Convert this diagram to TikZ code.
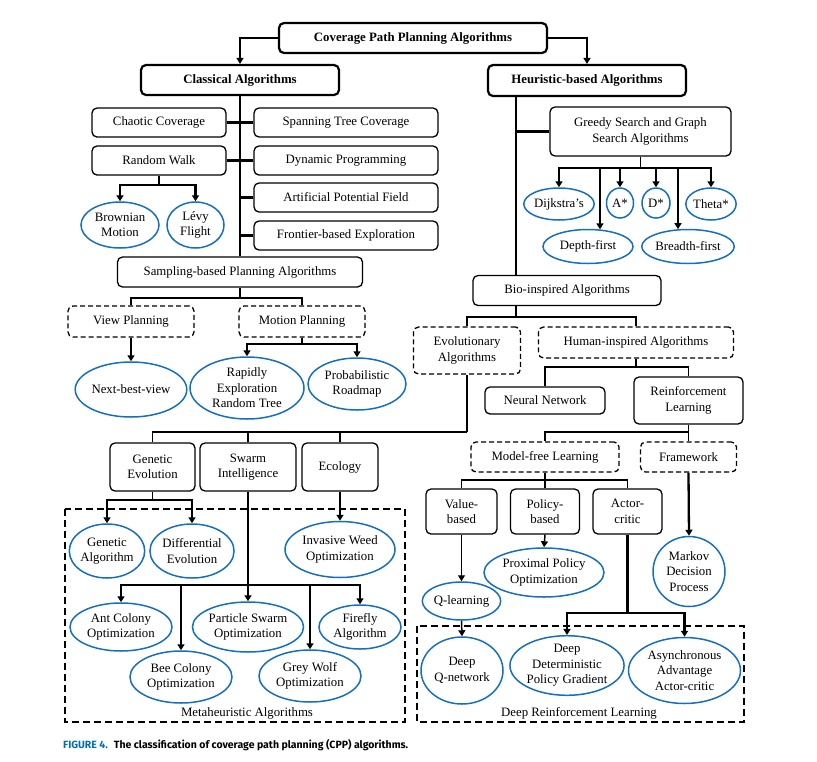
\documentclass[tikz,border=0pt]{standalone}
\usepackage{fontspec}
\setmainfont{Liberation Serif}
\newfontfamily\capfont{Fira Sans}
\usetikzlibrary{shapes.geometric,arrows.meta,calc}
\definecolor{ellblue}{RGB}{20,112,190}
\definecolor{capblue}{RGB}{0,110,180}

\begin{document}
\begin{tikzpicture}[x=1pt,y=-1pt,
  every node/.style={font=\fontsize{12.8}{15.5}\selectfont, align=center, inner sep=0pt},
  box/.style 2 args={draw, rounded corners=5pt, line width=1.3pt, minimum width=#1, minimum height=#2},
  bbox/.style 2 args={draw, rounded corners=5pt, line width=2.2pt, minimum width=#1, minimum height=#2},
  dbox/.style 2 args={draw, rounded corners=5pt, line width=1.3pt, dash pattern=on 5pt off 3pt, minimum width=#1, minimum height=#2},
  ell/.style 2 args={ellipse, draw=ellblue, line width=1.5pt, minimum width=#1, minimum height=#2},
  ln/.style={line width=1.5pt},
  tk/.style={line width=2.3pt},
  tn/.style={line width=1.2pt},
  arr/.style={-{Triangle[width=7pt,length=6pt]}},
  group/.style={draw, line width=1.3pt, dash pattern=on 7pt off 4pt}
]
\useasboundingbox (0,0) rectangle (817,761);

% ---------- top levels ----------
\node[bbox={268pt}{30pt}] (cpp) at (413,38) {\bfseries Coverage Path Planning Algorithms};
\node[bbox={198pt}{30pt}] (cls) at (240,80) {\bfseries Classical Algorithms};
\node[bbox={198pt}{31pt}] (heu) at (587,80.5) {\bfseries Heuristic-based Algorithms};
\draw[ln,arr] (cpp.west) -| (cls.north);
\draw[ln,arr] (cpp.east) -| (heu.north);

% ---------- classical branch ----------
\node[box={134pt}{29pt}] (cc)  at (159,122.5) {Chaotic Coverage};
\node[box={134pt}{29pt}] (rw)  at (159,160.5) {Random Walk};
\node[box={184pt}{29pt}] (stc) at (346,122.5) {Spanning Tree Coverage};
\node[box={184pt}{29pt}] (dp)  at (346,160.5) {Dynamic Programming};
\node[box={184pt}{29pt}] (apf) at (346,197.5) {Artificial Potential Field};
\node[box={184pt}{29pt}] (fbe) at (346,235.5) {Frontier-based Exploration};
\node[box={245pt}{30pt}] (samp) at (240,272) {Sampling-based Planning Algorithms};

\draw[tk] (cls.south) -- (samp.north);
\draw[tk] (cc.east) -- (stc.west);
\draw[tk] (rw.east) -- (dp.west);
\draw[tk] (apf.west) -- (apf.west -| cls.south);
\draw[tk] (fbe.west) -- (fbe.west -| cls.south);

\node[ell={78pt}{46pt}] (bm) at (120,225) {Brownian\\Motion};
\node[ell={57pt}{46pt}] (lf) at (195.5,225) {Lévy\\Flight};
\coordinate (rwj) at (159,185);
\draw[ln] (rw.south) -- (rwj);
\draw[tk,arr] (rwj) -| (bm.north);
\draw[tk,arr] (rwj) -| (lf.north);

\node[dbox={126pt}{31pt}] (vp) at (131,321.5) {View Planning};
\node[dbox={126pt}{31pt}] (mp) at (302,321.5) {Motion Planning};
\coordinate (sj) at (240,298);
\draw[ln] (samp.south) -- (sj);
\draw[ln] (sj) -| (vp.north);
\draw[ln] (sj) -| (mp.north);

\node[ell={106pt}{55pt}] (nbv) at (131,389.5) {Next-best-view};
\node[ell={114pt}{62pt}] (rrt) at (247,388) {Rapidly\\Exploration\\Random Tree};
\node[ell={98pt}{52pt}]  (prm) at (357,384) {Probabilistic\\Roadmap};
\draw[tk,arr] (vp.south) -- (nbv.north);
\coordinate (mj) at (302,344);
\draw[ln] (mp.south) -- (mj);
\draw[tk,arr] (mj) -| (rrt.north);
\draw[tk,arr] (mj) -| (prm.north);

% ---------- heuristic branch ----------
\coordinate (hx) at (516,0);
\node[box={181pt}{49pt}] (gs) at (640.5,131.5) {Greedy Search and Graph\\Search Algorithms};
\node[box={188pt}{30pt}] (bio) at (567,290.5) {Bio-inspired Algorithms};
\draw[tk] (heu.south -| hx) -- (bio.north -| hx);
\draw[tk] (gs.west) -- (gs.west -| hx);

\node[ell={68pt}{32pt}] (dij) at (559,204) {Dijkstra’s};
\node[ell={27pt}{30pt}] (astar) at (620,203) {A*};
\node[ell={28pt}{30pt}] (dstar) at (656,203) {D*};
\node[ell={48pt}{32pt}] (theta) at (711,204) {Theta*};
\node[ell={90pt}{34pt}] (dfs) at (588,246.5) {Depth-first};
\node[ell={90pt}{34pt}] (bfs) at (688,246.5) {Breadth-first};
\coordinate (gj) at (640.5,168);
\draw[ln] (gs.south) -- (gj);
\draw[tk] (gj -| dij.north) -- (gj -| theta.north);
\draw[tk,arr] (gj) -| (dij.north);
\draw[tk,arr] (gj) -| (astar.north);
\draw[tk,arr] (gj) -| (dstar.north);
\draw[tk,arr] (gj) -| (theta.north);
\draw[tk,arr] (gj) -| ($(dfs.north)+(12,0.6)$);
\draw[tk,arr] (gj) -| ($(bfs.north)+(-10,0.4)$);

\node[dbox={107pt}{47pt}] (evo) at (467,350.5) {Evolutionary\\Algorithms};
\node[dbox={195pt}{31pt}] (hum) at (636,342.5) {Human-inspired Algorithms};
\coordinate (bj) at (516,317);
\draw[ln] (bio.south -| hx) -- (bj);
\draw[ln] (bj) -| (evo.north);
\draw[ln] (bj) -| (hum.north);

\node[box={120pt}{27pt}] (nn) at (545,400.5) {Neural Network};
\node[box={109pt}{47pt}] (rl) at (688.5,400.5) {Reinforcement\\Learning};
\coordinate (hj) at (636,367);
\draw[ln] (hum.south) -- (hj);
\draw[ln] (hj) -| (nn.north);
\draw[ln] (hj) -| (rl.north);

% ---------- evolutionary algorithms ----------
\node[box={85pt}{48pt}] (ge)  at (152.5,467) {Genetic\\Evolution};
\node[box={96pt}{48pt}] (si)  at (248,467) {Swarm\\Intelligence};
\node[box={76pt}{48pt}] (eco) at (340,467) {Ecology};
\coordinate (ej) at (467,432);
\draw[ln] (evo.south) -- (ej);
\draw[ln] (ej) -| (ge.north);
\draw[ln] (si.north) -- (si.north |- ej);
\draw[ln] (eco.north) -- (eco.north |- ej);

\draw[group] (65,509) rectangle (405,722);
\node (mh) at (247,713) {Metaheuristic Algorithms};

\node[ell={72pt}{54pt}]  (ga)  at (107,551) {Genetic\\Algorithm};
\node[ell={82pt}{54pt}]  (de)  at (192,551) {Differential\\Evolution};
\node[ell={110pt}{56pt}] (iwo) at (340,549.5) {Invasive Weed\\Optimization};
\coordinate (gej) at (152.5,500);
\draw[ln] (ge.south) -- (gej);
\draw[tk,arr] (gej) -| (ga.north);
\draw[tk,arr] (gej) -| (de.north);
\draw[tk,arr] (eco.south) -- (iwo.north);

\node[ell={102pt}{48pt}] (aco) at (121,627) {Ant Colony\\Optimization};
\node[ell={108pt}{50pt}] (pso) at (248,627) {Particle Swarm\\Optimization};
\node[ell={82pt}{44pt}]  (ff)  at (360,627) {Firefly\\Algorithm};
\node[ell={102pt}{52pt}] (bee) at (181,677) {Bee Colony\\Optimization};
\node[ell={102pt}{52pt}] (gw)  at (310,676) {Grey Wolf\\Optimization};
\coordinate (sj2) at (248,585);
\draw[tk] (si.south) -- (sj2);
\draw[tk,arr] (sj2) -| (aco.north);
\draw[tk,arr] (sj2) -| (bee.north);
\draw[tk,arr] (sj2) -- (pso.north);
\draw[tk,arr] (sj2) -| (gw.north);
\draw[tk,arr] (sj2) -| (ff.north);

% ---------- reinforcement learning ----------
\node[dbox={148pt}{30pt}] (mf) at (545,457) {Model-free Learning};
\node[dbox={96pt}{30pt}]  (fw) at (688.5,457) {Framework};
\coordinate (rj) at (688.5,432);
\draw[ln] (rl.south) -- (rj);
\draw[ln] (rj) -| (mf.north);
\draw[ln] (rj) -- (fw.north);

\node[box={71pt}{45pt}] (vb) at (461.5,511.5) {Value-\\based};
\node[box={69pt}{45pt}] (pb) at (545,511.5) {Policy-\\based};
\node[box={69pt}{45pt}] (ac) at (627.5,511.5) {Actor-\\critic};
\coordinate (mj2) at (545,480);
\draw[ln] (mf.south) -- (mj2);
\draw[ln] (mj2) -| (vb.north);
\draw[ln] (mj2) -- (pb.north);
\draw[ln] (mj2) -| (ac.north);

\node[ell={72pt}{38pt}]  (ql)  at (461.5,601) {Q-learning};
\node[ell={120pt}{49pt}] (ppo) at (544,572.5) {Proximal Policy\\Optimization};
\node[ell={72pt}{70pt}]  (mdp) at (689,571.5) {Markov\\Decision\\Process};
\draw[tn,arr] (vb.south) -- (ql.north);
\draw[ln,arr] (pb.south) -- (ppo.north);
\draw[tk,arr] (fw.south) -- (mdp.north);

\draw[group] (417,626) rectangle (744,722);
\node (drl) at (579,713) {Deep Reinforcement Learning};

\node[ell={82pt}{67pt}]  (dqn)  at (462,670.5) {Deep\\Q-network};
\node[ell={114pt}{58pt}] (ddpg) at (567,665.5) {Deep\\Deterministic\\Policy Gradient};
\node[ell={112pt}{66pt}] (a3c)  at (684.5,670.5) {Asynchronous\\Advantage\\Actor-critic};
\draw[ln,arr] (ql.south) -- (dqn.north);
\coordinate (aj) at (627.5,613);
\draw[tk] (ac.south) -- (aj);
\draw[tk,arr] (aj) -| (ddpg.north);
\draw[tk,arr] (aj) -| (a3c.north);

% ---------- caption ----------
\node[anchor=west, font=\capfont\bfseries\fontsize{10.5}{12}\selectfont] (cap) at (63,745)
  {\textcolor{capblue}{FIGURE 4.}\hspace{6pt}The classification of coverage path planning (CPP) algorithms.};
\end{tikzpicture}
\end{document}
